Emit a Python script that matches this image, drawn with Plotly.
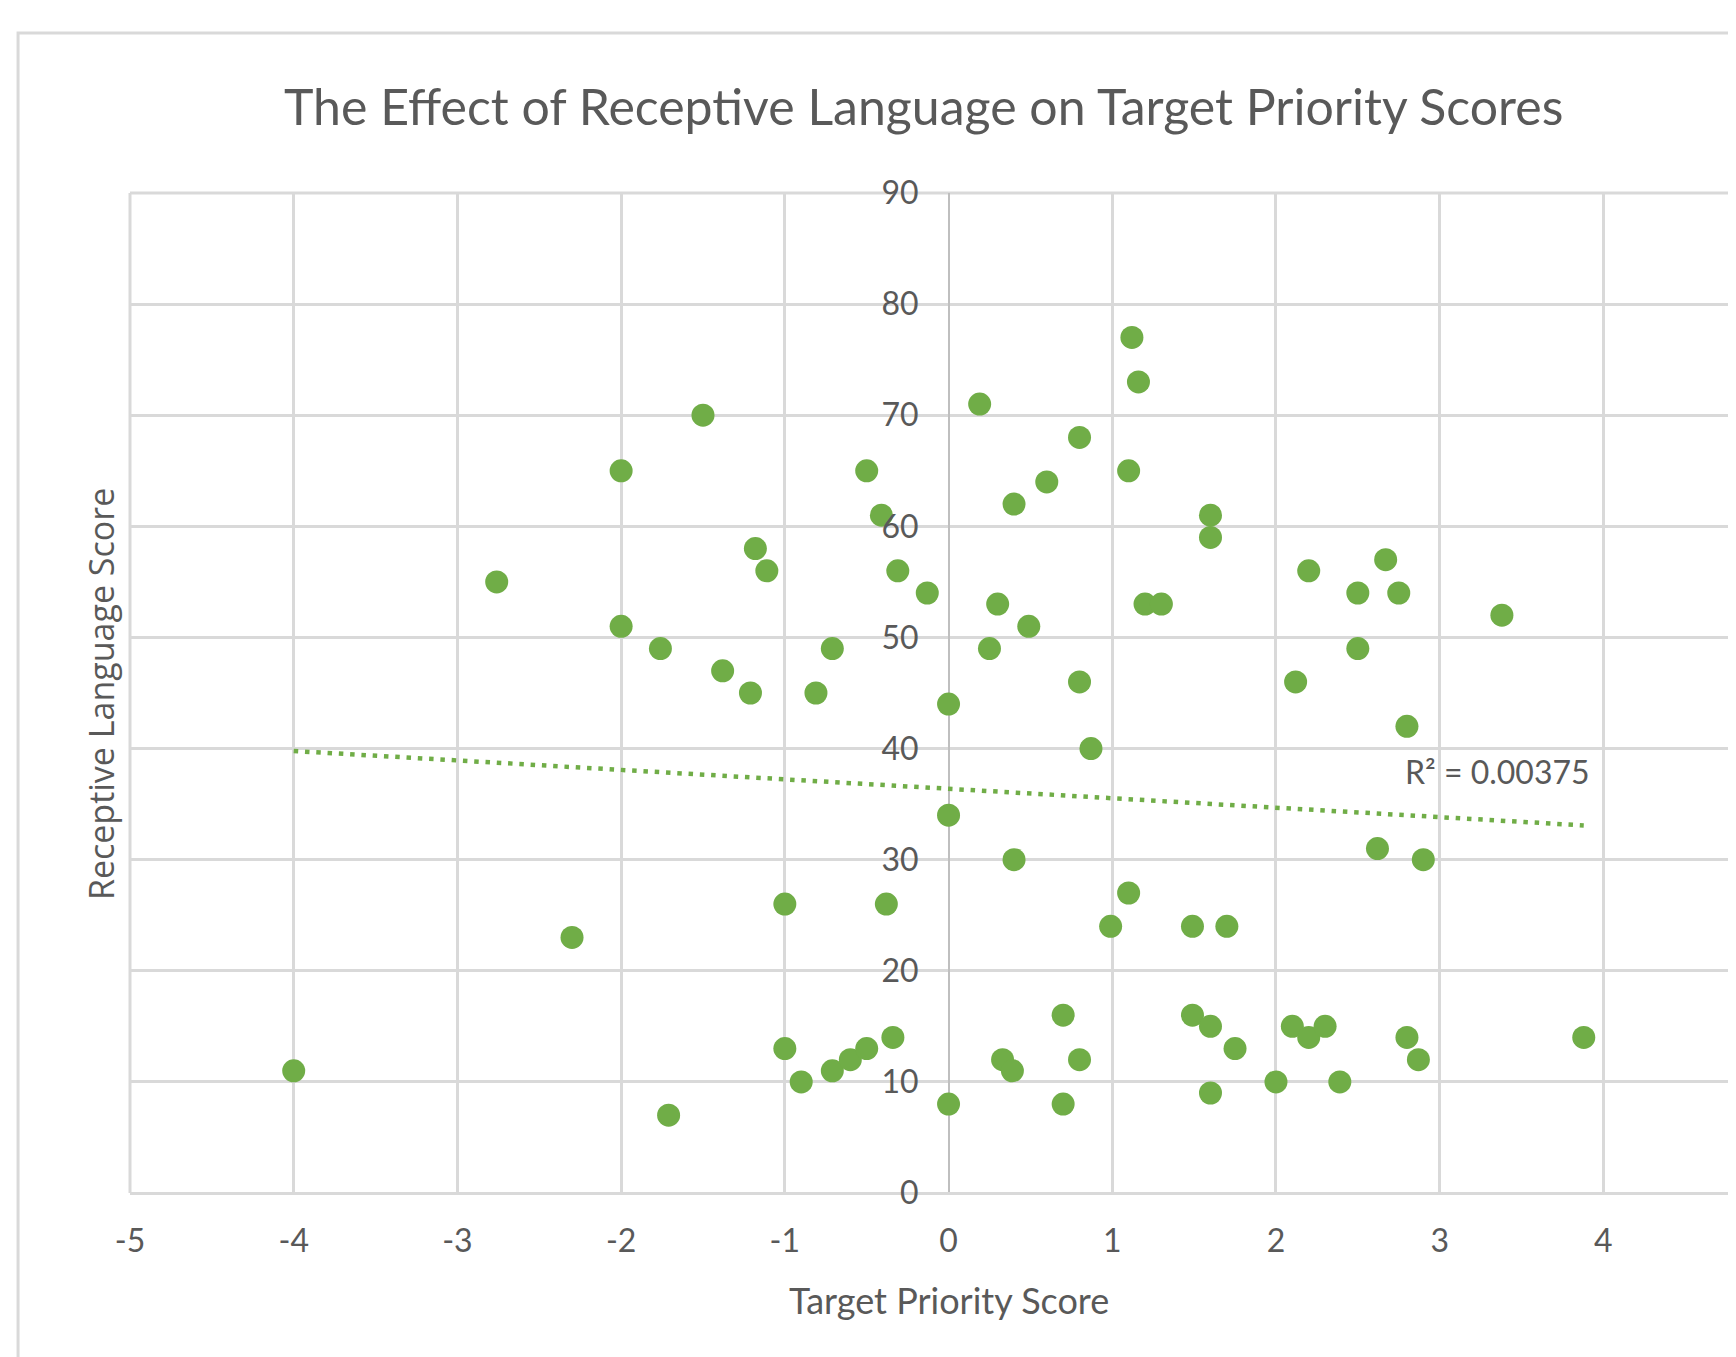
import plotly.graph_objects as go

# ---- data ----
target_priority = [
    -4.0, -2.76, -2.30, -2.0, -2.0, -1.76, -1.71, -1.50, -1.38, -1.21,
    -1.18, -1.11, -1.0, -1.0, -0.90, -0.81, -0.71, -0.71, -0.60, -0.50,
    -0.50, -0.41, -0.38, -0.34, -0.31, -0.13, 0.0, 0.0, 0.0, 0.19,
    0.25, 0.30, 0.33, 0.39, 0.40, 0.40, 0.49, 0.60, 0.70, 0.70,
    0.80, 0.80, 0.80, 0.87, 0.99, 1.10, 1.10, 1.12, 1.16, 1.20,
    1.30, 1.49, 1.49, 1.60, 1.60, 1.60, 1.60, 1.70, 1.75, 2.0,
    2.10, 2.12, 2.20, 2.20, 2.30, 2.39, 2.50, 2.50, 2.62, 2.67,
    2.75, 2.80, 2.80, 2.87, 2.90, 3.38, 3.88,
]
receptive_language = [
    11, 55, 23, 65, 51, 49, 7, 70, 47, 45,
    58, 56, 26, 13, 10, 45, 49, 11, 12, 65,
    13, 61, 26, 14, 56, 54, 44, 34, 8, 71,
    49, 53, 12, 11, 62, 30, 51, 64, 16, 8,
    68, 46, 12, 40, 24, 65, 27, 77, 73, 53,
    53, 24, 16, 61, 59, 15, 9, 24, 13, 10,
    15, 46, 56, 14, 15, 10, 54, 49, 31, 57,
    54, 42, 14, 12, 30, 52, 14,
]
# Excel linear trendline, end values (at min and max x)
trend_y_read = [39.78, 33.08]

x_ticks = [-5, -4, -3, -2, -1, 0, 1, 2, 3, 4]
x_tick_labels = ["-5", "-4", "-3", "-2", "-1", "0", "1", "2", "3", "4"]
y_ticks = [0, 10, 20, 30, 40, 50, 60, 70, 80, 90]
y_tick_labels = ["0", "10", "20", "30", "40", "50", "60", "70", "80", "90"]
chart_title = "The Effect of Receptive Language on Target Priority Scores"
x_title = "Target Priority Score"
y_title = "Receptive Language Score"
r2_label = "R² = 0.00375"

trend_x = [min(target_priority), max(target_priority)]

GREEN = "#70AD47"
GRID = "#D9D9D9"
TEXT = "#595959"
FONT = "Lato"

x_range = [-5, 4.81]
y_axis_pos = (0 - x_range[0]) / (x_range[1] - x_range[0])

fig = go.Figure()
fig.add_trace(go.Scatter(
    x=target_priority, y=receptive_language, mode="markers",
    marker=dict(color=GREEN, size=23, line=dict(width=0)),
    showlegend=False, cliponaxis=False,
))
fig.add_trace(go.Scatter(
    x=trend_x, y=trend_y_read, mode="lines",
    line=dict(color=GREEN, width=4.5, dash="4.5px,6.8px"),
    showlegend=False,
))

fig.update_layout(
    width=1728, height=1349,
    margin=dict(l=122, r=0, t=185, b=164),
    paper_bgcolor="white", plot_bgcolor="white",
    font=dict(family=FONT, color=TEXT),
    xaxis=dict(
        range=x_range, tickvals=x_ticks, ticktext=x_tick_labels,
        showgrid=True, gridcolor=GRID, gridwidth=3,
        zeroline=True, zerolinecolor="#BFBFBF", zerolinewidth=2,
        ticks="", ticklabelstandoff=26, tickfont=dict(size=32, color=TEXT, family=FONT),
        showline=False,
    ),
    yaxis=dict(
        range=[0, 90], tickvals=y_ticks, ticktext=y_tick_labels,
        showgrid=True, gridcolor=GRID, gridwidth=3,
        zeroline=True, zerolinecolor=GRID, zerolinewidth=3,
        anchor="free", position=y_axis_pos,
        ticks="", ticklabelstandoff=30, tickfont=dict(size=32, color=TEXT, family=FONT),
        showline=False,
    ),
    annotations=[
        dict(text=chart_title, xref="paper", yref="paper", x=0.494, y=1.0875,
             xanchor="center", yanchor="middle", showarrow=False,
             font=dict(size=50, color=TEXT, family=FONT)),
        dict(text=x_title, xref="paper", yref="paper", x=0.51, y=-0.107,
             xanchor="center", yanchor="middle", showarrow=False,
             font=dict(size=36, color=TEXT, family=FONT)),
        dict(text=y_title, xref="paper", yref="paper", x=-0.018, y=0.499,
             xanchor="center", yanchor="middle", showarrow=False, textangle=-90,
             font=dict(size=34, color=TEXT, family="Open Sans")),
        dict(text=r2_label, xref="x", yref="y", x=2.775, y=37.9,
             xanchor="left", yanchor="middle", showarrow=False,
             font=dict(size=32, color=TEXT, family=FONT)),
    ],
    shapes=[
        dict(type="rect", xref="paper", yref="paper",
             x0=-0.0697, x1=1.05, y0=-0.3, y1=1.16,
             line=dict(color=GRID, width=3), fillcolor="rgba(0,0,0,0)", layer="below"),
        dict(type="line", xref="paper", yref="paper", x0=0, x1=0, y0=0, y1=1,
             line=dict(color=GRID, width=3), layer="below"),
        dict(type="line", xref="paper", yref="paper", x0=0, x1=1, y0=1, y1=1,
             line=dict(color=GRID, width=3), layer="below"),
    ],
)

fig.write_html("out.html")
